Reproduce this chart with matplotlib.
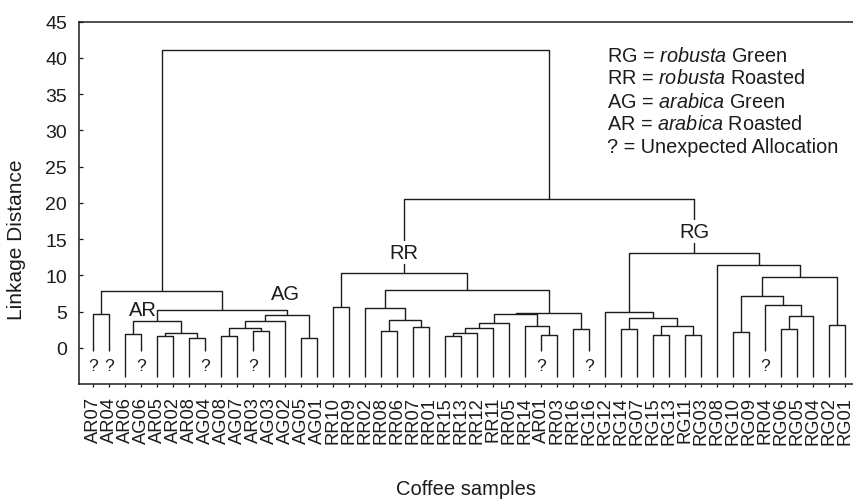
import matplotlib
matplotlib.use("Agg")
import matplotlib.pyplot as plt

plt.rcParams["font.family"] = ["Liberation Sans", "DejaVu Sans"]
plt.rcParams["mathtext.fontset"] = "custom"
plt.rcParams["mathtext.rm"] = "Liberation Sans"
plt.rcParams["mathtext.it"] = "Liberation Sans:italic"

# leaf order of the tree, left to right
samples = [
    "AR07", "AR04", "AR06", "AG06", "AR05", "AR02", "AR08", "AG04",
    "AG08", "AG07", "AR03", "AG03", "AG02", "AG05", "AG01",
    "RR10", "RR09", "RR02", "RR08", "RR06", "RR07", "RR01", "RR15",
    "RR13", "RR12", "RR11", "RR05", "RR14", "AR01", "RR03", "RR16",
    "RG16", "RG12", "RG14", "RG07", "RG15", "RG13", "RG11", "RG03",
    "RG08", "RG10", "RG09", "RR04", "RG06", "RG05", "RG04", "RG02", "RG01",
]

# merges, linkage style: ids < 48 are samples, id 48 + k is merge k
merge_left = [0, 2, 4, 6, 50, 49, 8, 10, 54, 56, 13, 57, 53, 48,
              15, 18, 20, 63, 17, 22, 67, 68, 69, 28, 27, 70, 30, 73, 66, 62,
              33, 35, 37, 79, 78, 32, 40, 43, 85, 42, 84, 46, 88, 39, 83,
              77, 61]
merge_right = [1, 3, 5, 7, 51, 52, 9, 11, 55, 12, 14, 58, 59, 60,
               16, 19, 21, 64, 65, 23, 24, 25, 26, 29, 71, 72, 31, 74, 75, 76,
               34, 36, 38, 80, 81, 82, 41, 44, 45, 86, 87, 47, 89, 90, 91,
               92, 93]
merge_height = [4.6, 1.9, 1.56, 1.38, 2.1, 3.72, 1.6, 2.3, 2.76, 3.7, 1.33,
                4.55, 5.24, 7.9,
                5.6, 2.25, 2.85, 3.86, 5.47, 1.6, 2.02, 2.72, 3.45, 1.79, 2.99,
                4.62, 2.53, 4.75, 8.0, 10.34,
                2.53, 1.7, 1.8, 2.94, 4.14, 5.0, 2.16, 2.53, 4.37, 5.93, 7.13,
                3.17, 9.75, 11.45, 13.06,
                20.5, 41.1]

# samples that ended up in an unexpected cluster
unexpected = ["AR07", "AR04", "AG06", "AG04", "AR03", "AR01", "RG16", "RR04"]

legend_lines = [
    r"RG = $\mathit{robusta}$ Green",
    r"RR = $\mathit{robusta}$ Roasted",
    r"AG = $\mathit{arabica}$ Green",
    r"AR = $\mathit{arabica}$ Roasted",
    "? = Unexpected Allocation",
]

ink = "#1c1c1c"
leaf_bottom = -4.1
short_bottom = -0.5

n = len(samples)
node_x = [float(i) for i in range(n)]
node_h = [leaf_bottom if s not in unexpected else short_bottom for s in samples]
for a, b, h in zip(merge_left, merge_right, merge_height):
    node_x.append((node_x[a] + node_x[b]) / 2)
    node_h.append(h)

fig = plt.figure(figsize=(8.54, 5.02), dpi=100)
ax = fig.add_axes([79 / 854, 1 - 385 / 502, 1 - 79 / 854, (385 - 22.7) / 502])

for a, b, h in zip(merge_left, merge_right, merge_height):
    ax.plot([node_x[a], node_x[a], node_x[b], node_x[b]],
            [node_h[a], h, h, node_h[b]],
            color=ink, lw=1.0, solid_capstyle="butt", zorder=2)

for i, s in enumerate(samples):
    if s in unexpected:
        ax.text(i, -2.45, "?", ha="center", va="center", fontsize=12.5, color=ink)

# cluster names
ax.text(3.1, 5.3, "AR", ha="center", va="center", fontsize=14.5, color=ink)
ax.text(12.0, 7.5, "AG", ha="center", va="center", fontsize=14.5, color=ink)
for name, node, y in [("RR", n + 29, 13.2), ("RG", n + 44, 16.0)]:
    ax.text(node_x[node], y, name, ha="center", va="center", fontsize=14.5,
            color=ink, zorder=3,
            bbox=dict(facecolor="white", edgecolor="none", pad=1.5))

# key in the upper right, placed in figure pixels from the top
for j, line in enumerate(legend_lines):
    fig.text(607 / 854, 1 - (56 + 23 * j) / 502, line, fontsize=14.3,
             color=ink, ha="left", va="center")

ax.set_xlim(-0.894, 47.54)
ax.set_ylim(-5, 45)
ax.set_yticks(range(0, 46, 5))
ax.set_xticks(range(n))
ax.set_xticklabels(samples, rotation=90, fontsize=13.2, color=ink)
ax.tick_params(axis="x", direction="out", length=2.5, width=0.9, pad=6,
               colors=ink)
ax.tick_params(axis="y", direction="in", length=3, width=0.9, pad=8.5,
               labelsize=14, colors=ink)

ax.spines["right"].set_visible(False)
for side in ["left", "bottom", "top"]:
    ax.spines[side].set_linewidth(1.1)
    ax.spines[side].set_color(ink)

ax.set_ylabel("Linkage Distance", fontsize=15, color=ink, va="center")
ax.yaxis.set_label_coords(-0.08, 0.40)
ax.set_xlabel("Coffee samples", fontsize=14.5, color=ink, va="top")
ax.xaxis.set_label_coords(0.5, -0.262)

fig.savefig("out.png", dpi=100)
